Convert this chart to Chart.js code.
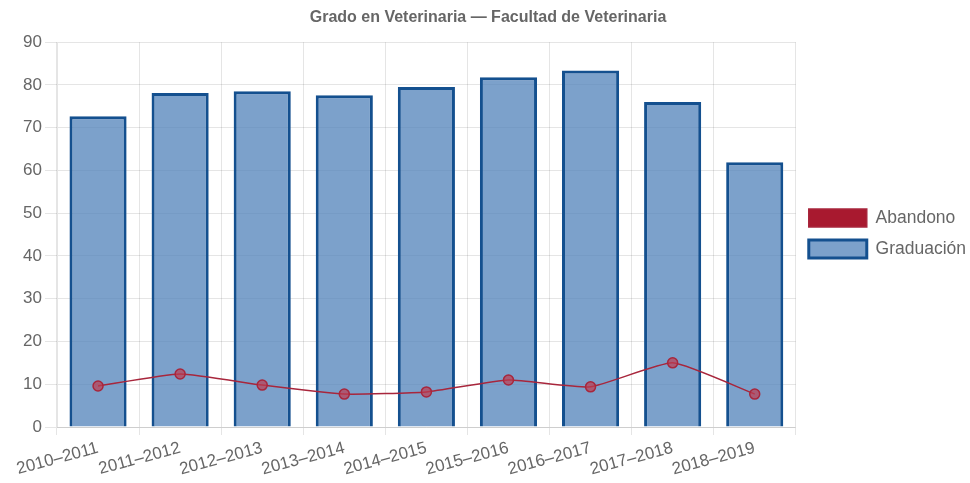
<!DOCTYPE html>
<html>
<head>
<meta charset="utf-8">
<script src="https://cdn.jsdelivr.net/npm/chart.js@4/dist/chart.umd.min.js"></script>
<style>
html,body{margin:0;padding:0;background:#fff;}
#wrap{width:970px;height:483px;position:relative;}
</style>
</head>
<body>
<div id="wrap"><canvas id="c" width="970" height="483"></canvas></div>
<script>
const categories = ["2010–2011","2011–2012","2012–2013","2013–2014","2014–2015","2015–2016","2016–2017","2017–2018","2018–2019"];
const abandono = [9.6, 12.4, 9.8, 7.7, 8.2, 11.0, 9.4, 15.0, 7.7];
const graduacion = [72.7, 78.1, 78.5, 77.6, 79.5, 81.8, 83.4, 76.0, 61.9];
const yTicks = [0,10,20,30,40,50,60,70,80,90];

Chart.defaults.font.family = "'Liberation Sans', Arial, sans-serif";
Chart.defaults.color = "#666";

const legendShift = {
  id: 'legendShift',
  afterLayout(chart) {
    if (chart.legend) {
      chart.legend.top -= 8;
      chart.legend.bottom -= 8;
    }
  }
};

new Chart(document.getElementById('c'), {
  type: 'bar',
  data: {
    labels: categories,
    datasets: [
      {
        type: 'line',
        label: 'Abandono',
        data: abandono,
        borderColor: '#a8263c',
        backgroundColor: '#a8192f',
        pointBackgroundColor: 'rgba(190,60,80,0.7)',
        pointBorderColor: '#a8263c',
        borderWidth: 1.5,
        pointRadius: 5,
        pointBorderWidth: 1.5,
        tension: 0.15,
        fill: false,
        order: 0
      },
      {
        type: 'bar',
        label: 'Graduación',
        data: graduacion,
        backgroundColor: 'rgba(80,130,185,0.75)',
        borderColor: '#14508f',
        borderWidth: 3,
        categoryPercentage: 0.8,
        barPercentage: 0.87,
        order: 1
      }
    ]
  },
  plugins: [legendShift],
  options: {
    responsive: false,
    animation: false,
    devicePixelRatio: 1,
    layout: { padding: { left: 0, right: -6, top: 0, bottom: 0 } },
    plugins: {
      title: {
        display: true,
        text: 'Grado en Veterinaria — Facultad de Veterinaria',
        font: { size: 16, weight: 'bold' },
        color: '#666',
        padding: { top: 8, bottom: 15 }
      },
      legend: {
        position: 'right',
        labels: {
          boxWidth: 58,
          boxHeight: 18,
          font: { size: 17.5 },
          color: '#666',
          padding: 13
        }
      },
      tooltip: { enabled: false }
    },
    scales: {
      x: {
        grid: { color: 'rgba(0,0,0,0.1)', offset: true, tickLength: 8 },
        ticks: { font: { size: 17 }, color: '#666', minRotation: 15, maxRotation: 15, autoSkip: false },
        afterFit: (axis) => { axis.height = 56; }
      },
      y: {
        min: 0,
        max: 90,
        afterBuildTicks: (axis) => { axis.ticks = yTicks.map(v => ({ value: v })); },
        grid: { color: 'rgba(0,0,0,0.1)', tickLength: 12 },
        ticks: { font: { size: 17 }, color: '#666', padding: 3 },
        afterFit: (axis) => { axis.width = 57; }
      }
    }
  }
});
</script>
</body>
</html>
